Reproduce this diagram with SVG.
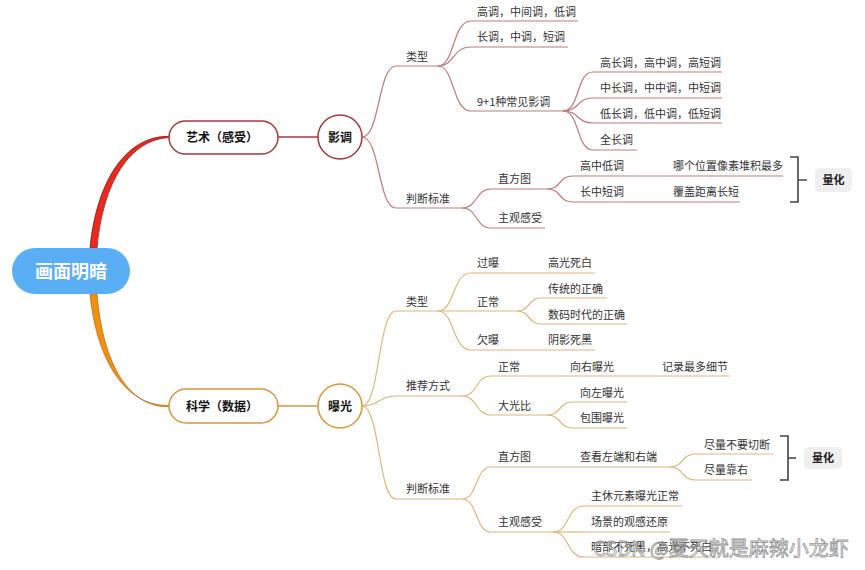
<svg xmlns="http://www.w3.org/2000/svg" width="865" height="570" viewBox="0 0 865 570">
<style>
text{font-family:"Noto Sans CJK SC","Noto Sans",sans-serif;}
.leaf{font-size:11px;fill:#333;}
.nodeT{font-size:12px;font-weight:bold;fill:#111;text-anchor:middle;}
.ul-r{fill:none;stroke:#c27a7a;stroke-width:1.2;}
.ul-o{fill:none;stroke:#e2b679;stroke-width:1.2;}
.cn-r{fill:none;stroke:#c27a7a;stroke-width:1.2;}
.cn-o{fill:none;stroke:#e2b679;stroke-width:1.2;}
.brk{fill:none;stroke:#444;stroke-width:1.6;}
.qh{fill:#efefef;}
.qhT{font-size:11px;font-weight:bold;fill:#222;text-anchor:middle;}
</style>
<rect width="865" height="570" fill="#ffffff"/>

<g id="connectors">
  <path d="M90,248 C97,178 128,135 170,136.4 L170,137.6 C130,139 103,182 97,248 Z" fill="#e8291c" stroke="#8e1c1c" stroke-width="0.8"/>
  <path d="M90,294 C97,364 128,407 169,405.4 L169,406.6 C130,408 103,366 97,294 Z" fill="#f0900f" stroke="#c06c0c" stroke-width="0.8"/>
  <path d="M278,137 H318" fill="none" stroke="#a33b3b" stroke-width="1.5"/>
  <path d="M278,406 H318" fill="none" stroke="#d9973a" stroke-width="1.5"/>
  <!-- top -->
  <path class="cn-r" d="M362,137 C380,137 378,66 396,66"/>
  <path class="cn-r" d="M362,137 C380,137 378,208 396,208"/>
  <path class="cn-r" d="M438,66 C455,66 452,21 471,21"/>
  <path class="cn-r" d="M438,66 C455,66 452,47 471,47"/>
  <path class="cn-r" d="M438,66 C455,66 452,111 471,111"/>
  <path class="cn-r" d="M563,111 C580,111 576,72 593,72"/>
  <path class="cn-r" d="M563,111 C580,111 576,98 593,98"/>
  <path class="cn-r" d="M563,111 C580,111 576,123 593,123"/>
  <path class="cn-r" d="M563,111 C580,111 576,150 593,150"/>
  <path class="cn-r" d="M462,208 C478,208 475,189 491,189"/>
  <path class="cn-r" d="M462,208 C478,208 475,228 491,228"/>
  <path class="cn-r" d="M547,189 C562,189 558,176 573,176"/>
  <path class="cn-r" d="M547,189 C562,189 558,202 573,202"/>
  <!-- bottom -->
  <path class="cn-o" d="M362,406 C380,406 378,311 396,311"/>
  <path class="cn-o" d="M362,406 C380,406 378,396 396,396"/>
  <path class="cn-o" d="M362,406 C380,406 378,499 396,499"/>
  <path class="cn-o" d="M438,311 C455,311 452,273 471,273"/>
  <path class="cn-o" d="M438,311 H471"/>
  <path class="cn-o" d="M438,311 C455,311 452,350 471,350"/>
  <path class="cn-o" d="M517,311 C530,311 528,298 541,298"/>
  <path class="cn-o" d="M517,311 C530,311 528,324 541,324"/>
  <path class="cn-o" d="M462,396 C478,396 475,376 491,376"/>
  <path class="cn-o" d="M462,396 C478,396 475,415 491,415"/>
  <path class="cn-o" d="M547,415 C562,415 558,402 573,402"/>
  <path class="cn-o" d="M547,415 C562,415 558,428 573,428"/>
  <path class="cn-o" d="M462,499 C478,499 475,467 491,467"/>
  <path class="cn-o" d="M462,499 C478,499 475,532 491,532"/>
  <path class="cn-o" d="M670,467 C684,467 681,454 696,454"/>
  <path class="cn-o" d="M670,467 C684,467 681,480 696,480"/>
  <path class="cn-o" d="M553,532 C570,532 566,506 584,506"/>
  <path class="cn-o" d="M553,532 H584"/>
  <path class="cn-o" d="M553,532 C570,532 566,557 584,557"/>
</g>

<g id="root">
  <rect x="12" y="248" width="118" height="46" rx="23" fill="#5aaef5"/>
  <text x="71" y="277.5" font-size="18" font-weight="bold" fill="#ffffff" text-anchor="middle">画面明暗</text>
</g>

<g id="art">
  <rect x="169" y="121" width="109" height="33" rx="16.5" fill="#ffffff" stroke="#a33b3b" stroke-width="1.5"/>
  <text class="nodeT" x="222" y="142">艺术（感受）</text>
</g>
<g id="tone">
  <circle cx="340" cy="137" r="22" fill="#ffffff" stroke="#a33b3b" stroke-width="1.5"/>
  <text class="nodeT" x="340" y="141.5" font-size="11">影调</text>
</g>

<g id="sci">
  <rect x="169" y="389" width="109" height="34" rx="17" fill="#ffffff" stroke="#d9973a" stroke-width="1.5"/>
  <text class="nodeT" x="222" y="410.5">科学（数据）</text>
</g>
<g id="expo">
  <circle cx="340" cy="406" r="22" fill="#ffffff" stroke="#d9973a" stroke-width="1.5"/>
  <text class="nodeT" x="340" y="410.5" font-size="11">曝光</text>
</g>

<!-- top leaves -->
<g id="t-type"><path class="ul-r" d="M396,66 H438"/><text class="leaf" x="406" y="61">类型</text></g>
<g id="t-judge"><path class="ul-r" d="M396,208 H462"/><text class="leaf" x="406" y="203">判断标准</text></g>
<g id="t-1"><path class="ul-r" d="M471,21 H578"/><text class="leaf" x="477" y="16">高调，中间调，低调</text></g>
<g id="t-2"><path class="ul-r" d="M471,47 H568"/><text class="leaf" x="477" y="41">长调，中调，短调</text></g>
<g id="t-3"><path class="ul-r" d="M471,111 H563"/><text class="leaf" x="477" y="106">9+1种常见影调</text></g>
<g id="t-3a"><path class="ul-r" d="M593,72 H722"/><text class="leaf" x="600" y="67">高长调，高中调，高短调</text></g>
<g id="t-3b"><path class="ul-r" d="M593,98 H722"/><text class="leaf" x="600" y="92">中长调，中中调，中短调</text></g>
<g id="t-3c"><path class="ul-r" d="M593,123 H722"/><text class="leaf" x="600" y="118">低长调，低中调，低短调</text></g>
<g id="t-3d"><path class="ul-r" d="M593,150 H637"/><text class="leaf" x="600" y="144">全长调</text></g>
<g id="t-hist"><path class="ul-r" d="M491,189 H547"/><text class="leaf" x="498" y="183">直方图</text></g>
<g id="t-subj"><path class="ul-r" d="M491,228 H545"/><text class="leaf" x="498" y="222">主观感受</text></g>
<g id="t-h1"><path class="ul-r" d="M573,176 H783"/><text class="leaf" x="580" y="170">高中低调</text><text class="leaf" x="673" y="170">哪个位置像素堆积最多</text></g>
<g id="t-h2"><path class="ul-r" d="M573,202 H740"/><text class="leaf" x="580" y="196">长中短调</text><text class="leaf" x="673" y="196">覆盖距离长短</text></g>
<g id="t-quant">
  <path class="brk" d="M790,157 H798 V202 H790 M798,180 H807"/>
  <rect class="qh" x="815" y="168" width="37" height="24" rx="5"/>
  <text class="qhT" x="833.5" y="184">量化</text>
</g>

<!-- bottom leaves -->
<g id="b-type"><path class="ul-o" d="M396,311 H438"/><text class="leaf" x="406" y="306">类型</text></g>
<g id="b-rec"><path class="ul-o" d="M396,396 H462"/><text class="leaf" x="406" y="390">推荐方式</text></g>
<g id="b-judge"><path class="ul-o" d="M396,499 H462"/><text class="leaf" x="406" y="493">判断标准</text></g>
<g id="b-over"><path class="ul-o" d="M471,273 H595"/><text class="leaf" x="477" y="267">过曝</text><text class="leaf" x="548" y="267">高光死白</text></g>
<g id="b-norm"><path class="ul-o" d="M471,311 H517"/><text class="leaf" x="477" y="306">正常</text></g>
<g id="b-under"><path class="ul-o" d="M471,350 H595"/><text class="leaf" x="477" y="344">欠曝</text><text class="leaf" x="548" y="344">阴影死黑</text></g>
<g id="b-n1"><path class="ul-o" d="M541,298 H607"/><text class="leaf" x="548" y="293">传统的正确</text></g>
<g id="b-n2"><path class="ul-o" d="M541,324 H627"/><text class="leaf" x="548" y="319">数码时代的正确</text></g>
<g id="b-rnorm"><path class="ul-o" d="M491,376 H730"/><text class="leaf" x="498" y="371">正常</text><text class="leaf" x="570" y="371">向右曝光</text><text class="leaf" x="662" y="371">记录最多细节</text></g>
<g id="b-big"><path class="ul-o" d="M491,415 H547"/><text class="leaf" x="498" y="410">大光比</text></g>
<g id="b-b1"><path class="ul-o" d="M573,402 H627"/><text class="leaf" x="580" y="397">向左曝光</text></g>
<g id="b-b2"><path class="ul-o" d="M573,428 H627"/><text class="leaf" x="580" y="422">包围曝光</text></g>
<g id="b-hist"><path class="ul-o" d="M491,467 H670"/><text class="leaf" x="498" y="461">直方图</text><text class="leaf" x="580" y="461">查看左端和右端</text></g>
<g id="b-subj"><path class="ul-o" d="M491,532 H553"/><text class="leaf" x="498" y="526">主观感受</text></g>
<g id="b-h1"><path class="ul-o" d="M696,454 H773"/><text class="leaf" x="704" y="449">尽量不要切断</text></g>
<g id="b-h2"><path class="ul-o" d="M696,480 H752"/><text class="leaf" x="704" y="474">尽量靠右</text></g>
<g id="b-quant">
  <path class="brk" d="M780,436 H788 V480 H780 M788,458 H796"/>
  <rect class="qh" x="804" y="447" width="38" height="22" rx="5"/>
  <text class="qhT" x="823" y="462">量化</text>
</g>
<g id="b-s1"><path class="ul-o" d="M584,506 H682"/><text class="leaf" x="591" y="500">主休元素曝光正常</text></g>
<g id="b-s2"><path class="ul-o" d="M584,532 H670"/><text class="leaf" x="591" y="526">场景的观感还原</text></g>
<g id="b-s3"><path class="ul-o" d="M584,557 H712"/><text class="leaf" x="591" y="551">暗部不死黑，高光不死白</text></g>

<g id="watermark">
  <text x="593" y="556" font-size="20" fill="#ffffff" fill-opacity="0.5" stroke="#777" stroke-width="0.8" stroke-opacity="0.8">CSDN @夏天就是麻辣小龙虾</text>
</g>
</svg>
